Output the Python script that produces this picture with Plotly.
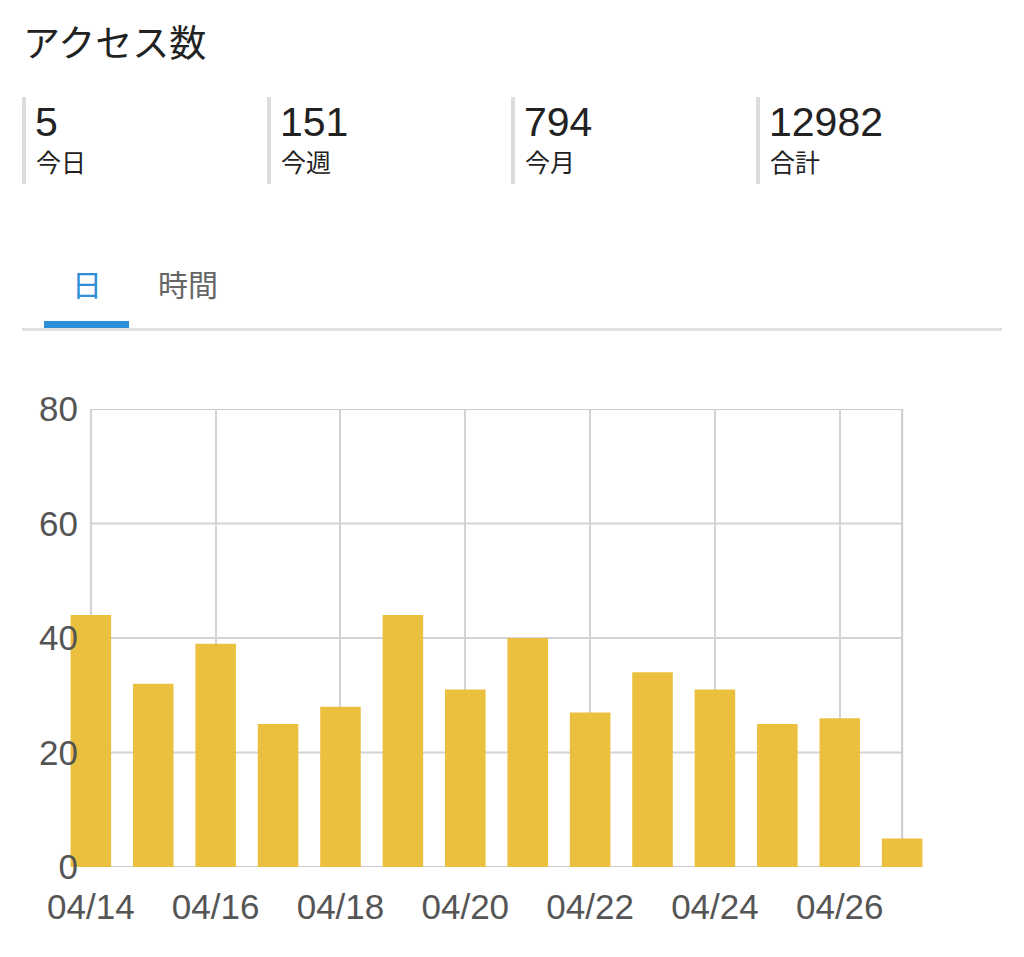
import plotly.graph_objects as go

# ---- data ----
title_text = "アクセス数"
stat_values = ["5", "151", "794", "12982"]
stat_labels = ["今日", "今週", "今月", "合計"]
tab_labels = ["日", "時間"]
dates = ["04/14", "04/15", "04/16", "04/17", "04/18", "04/19", "04/20",
         "04/21", "04/22", "04/23", "04/24", "04/25", "04/26", "04/27"]
visits = [44, 32, 39, 25, 28, 44, 31, 40, 27, 34, 31, 25, 26, 5]
y_ticks = [0, 20, 40, 60, 80]
y_grid = [20, 40, 60]

W, H = 1024, 957
L, R, T, B = 69, 924, 409, 867  # plot area (incl. bar overflow) in pixels
PAD = 0.35                      # extra category units left/right of the frame


def px(xp):
    return (xp - L) / (R - L)


def py(yp):
    return (B - yp) / (B - T)


FONT = "Liberation Sans, Noto Sans CJK JP, sans-serif"
GRID = "#d3d3d3"

fig = go.Figure()
fig.add_bar(x=dates, y=visits, marker_color="#EBC03F", marker_line_width=0,
            width=0.65, hoverinfo="x+y")

shapes = []
annotations = []

# chart frame and horizontal grid lines, limited to the first..last category
n_last = len(dates) - 1
for g in y_grid:
    shapes.append(dict(type="line", xref="x", yref="y", x0=0, x1=n_last, y0=g, y1=g,
                       line=dict(color=GRID, width=2), layer="below"))
shapes.append(dict(type="rect", xref="x", yref="y", x0=0, x1=n_last, y0=0, y1=80,
                   line=dict(color="#cccccc", width=2), layer="below"))

# title
annotations.append(dict(text=title_text, x=px(21), y=py(45), xref="paper", yref="paper",
                        xanchor="left", yanchor="middle", showarrow=False,
                        font=dict(size=37, color="#222222", family=FONT)))

# stat blocks
bar_x = [22, 267, 511, 756]
for i, (v, lab) in enumerate(zip(stat_values, stat_labels)):
    bx = bar_x[i]
    shapes.append(dict(type="rect", xref="paper", yref="paper",
                       x0=px(bx), x1=px(bx + 4), y0=py(97), y1=py(184),
                       fillcolor="#dcdcdc", line_width=0, layer="above"))
    annotations.append(dict(text=v, x=px(bx + 11), y=py(122), xref="paper", yref="paper",
                            xanchor="left", yanchor="middle", showarrow=False,
                            font=dict(size=41, color="#222222", family=FONT)))
    annotations.append(dict(text=lab, x=px(bx + 12), y=py(163), xref="paper", yref="paper",
                            xanchor="left", yanchor="middle", showarrow=False,
                            font=dict(size=25, color="#222222", family=FONT)))

# tabs
annotations.append(dict(text=tab_labels[0], x=px(87), y=py(285), xref="paper", yref="paper",
                        xanchor="center", yanchor="middle", showarrow=False,
                        font=dict(size=30, color="#2d8fd8", family=FONT)))
annotations.append(dict(text=tab_labels[1], x=px(188), y=py(285), xref="paper", yref="paper",
                        xanchor="center", yanchor="middle", showarrow=False,
                        font=dict(size=30, color="#666666", family=FONT)))
shapes.append(dict(type="rect", xref="paper", yref="paper",
                   x0=px(22), x1=px(1002), y0=py(331), y1=py(328),
                   fillcolor="#e2e2e2", line_width=0, layer="above"))
shapes.append(dict(type="rect", xref="paper", yref="paper",
                   x0=px(44), x1=px(129), y0=py(328), y1=py(321),
                   fillcolor="#2d8fd8", line_width=0, layer="above"))

fig.update_layout(
    width=W, height=H,
    margin=dict(l=L, r=W - R, t=T, b=H - B, pad=0),
    paper_bgcolor="white", plot_bgcolor="white",
    showlegend=False,
    shapes=shapes,
    annotations=annotations,
    font=dict(family=FONT, color="#555555"),
)
fig.update_xaxes(
    type="category", range=[-PAD, n_last + PAD],
    tickmode="array", tickvals=dates[::2], ticktext=dates[::2],
    showgrid=True, gridcolor=GRID, gridwidth=2,
    showline=False, zeroline=False,
    ticks="", tickfont=dict(size=35, color="#555555", family=FONT),
    ticklabelstandoff=16, layer="below traces", fixedrange=True,
)
fig.update_yaxes(
    range=[0, 80], tickmode="array", tickvals=y_ticks,
    showgrid=False, zeroline=False, showline=False,
    ticks="", tickfont=dict(size=35, color="#555555", family=FONT),
    ticklabelstandoff=-10, layer="above traces", fixedrange=True,
)

fig.write_html("out.html", config={"displayModeBar": False},
               post_script="document.body.style.margin='0';")
